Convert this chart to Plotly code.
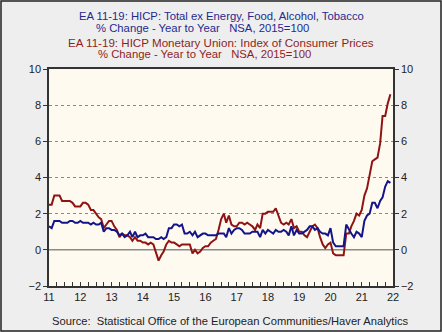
import pandas as pd
import plotly.graph_objects as go

# Monthly data, Jul 2011 - Jun 2022 (% change, year to year)
start_month = "2011-07-01"
headline = [
    2.5, 2.5, 3.0, 3.0, 3.0, 2.7,
    2.7, 2.7, 2.7, 2.6, 2.4, 2.4, 2.4, 2.6, 2.6, 2.5, 2.2, 2.2,
    2.0, 1.8, 1.7, 1.2, 1.4, 1.6, 1.6, 1.3, 1.1, 0.7, 0.9, 0.8,
    0.8, 0.7, 0.5, 0.7, 0.5, 0.5, 0.4, 0.4, 0.3, 0.4, 0.3, -0.2,
    -0.6, -0.3, -0.1, 0.3, 0.5, 0.4, 0.4, 0.3, 0.2, 0.3, 0.3, 0.3,
    0.3, -0.2, 0.0, -0.2, -0.1, 0.1, 0.2, 0.2, 0.4, 0.5, 0.6, 1.1,
    1.7, 2.0, 1.5, 1.9, 1.4, 1.3, 1.3, 1.5, 1.5, 1.4, 1.5, 1.4,
    1.3, 1.1, 1.4, 1.2, 2.0, 2.0, 2.1, 2.1, 2.1, 2.3, 1.9, 1.5,
    1.4, 1.5, 1.4, 1.7, 1.2, 1.3, 1.0, 1.0, 0.8, 0.7, 1.0, 1.3,
    1.4, 1.2, 0.7, 0.3, 0.1, 0.3, 0.4, -0.2, -0.3, -0.3, -0.3, -0.3,
    0.9, 0.9, 1.3, 1.6, 2.0, 1.9, 2.2, 3.0, 3.4, 4.1, 4.9, 5.0,
    5.1, 5.9, 7.4, 7.4, 8.1, 8.6,
]
core = [
    1.3, 1.2, 1.6, 1.6, 1.6, 1.5,
    1.5, 1.5, 1.6, 1.6, 1.5, 1.5, 1.6, 1.5, 1.5, 1.5, 1.4, 1.5,
    1.4, 1.4, 1.5, 1.0, 1.2, 1.2, 1.1, 1.1, 1.0, 0.8, 0.9, 0.7,
    0.8, 1.0, 0.7, 1.0, 0.7, 0.8, 0.8, 0.9, 0.7, 0.7, 0.7, 0.6,
    0.6, 0.7, 0.6, 0.7, 1.2, 1.2, 1.4, 1.4, 1.3, 1.4, 0.9, 0.9,
    1.0, 0.8, 1.0, 0.7, 0.8, 0.9, 0.9, 0.8, 0.8, 0.8, 0.8, 0.9,
    0.9, 0.9, 0.7, 1.2, 0.9, 1.1, 1.2, 1.2, 1.1, 0.9, 0.9, 0.9,
    1.0, 1.0, 1.0, 0.7, 1.1, 0.9, 1.1, 1.0, 0.9, 1.1, 1.0, 1.0,
    1.1, 1.0, 0.8, 1.3, 0.8, 1.1, 0.9, 0.9, 1.0, 1.1, 1.3, 1.3,
    1.1, 1.2, 1.0, 0.9, 0.9, 0.8, 1.2, 0.4, 0.2, 0.2, 0.2, 0.2,
    1.4, 1.1, 0.9, 0.7, 1.0, 0.9, 0.7, 1.6, 1.9, 2.0, 2.6, 2.6,
    2.3, 2.7, 2.9, 3.5, 3.8, 3.7,
]
year_labels = ["11", "12", "13", "14", "15", "16", "17", "18", "19", "20", "21", "22"]
y_ticks = [-2, 0, 2, 4, 6, 8, 10]

dates = pd.date_range(start_month, periods=len(headline), freq="MS")
label_pos = [f"20{y}-07-01" for y in year_labels]

BLUE = "#14148a"
RED = "#8e1414"
BLUE_TXT = "#1e2a8e"
RED_TXT = "#8e1e1e"
FONT = "Liberation Sans, Arial, sans-serif"

fig = go.Figure()
fig.add_trace(go.Scatter(x=dates, y=headline, mode="lines",
                         line=dict(color=RED, width=2), yaxis="y"))
fig.add_trace(go.Scatter(x=dates, y=core, mode="lines",
                         line=dict(color=BLUE, width=2), yaxis="y2"))

axis_common = dict(range=[-2, 10], tickvals=y_ticks, ticks="outside", ticklen=4,
                   tickcolor="#333", tickfont=dict(size=11, color="#222", family=FONT),
                   zeroline=False, fixedrange=True)

fig.update_layout(
    width=442, height=332,
    margin=dict(l=49, r=49, t=69, b=46),
    paper_bgcolor="#eeeeee",
    plot_bgcolor="#fffaf0",
    showlegend=False,
    font=dict(family=FONT, color="#222"),
    xaxis=dict(
        type="date",
        range=["2011-07-01", "2022-07-01"],
        tickvals=label_pos, ticktext=year_labels,
        ticks="inside", ticklen=4, tickcolor="#333",
        tickfont=dict(size=11, color="#222", family=FONT),
        minor=dict(dtick="M3", tick0="2011-01-01", ticks="inside", ticklen=4,
                   tickcolor="#333", showgrid=False),
        showgrid=False, showline=True, linecolor="#333", linewidth=1.5,
        mirror=True, zeroline=False,
    ),
    yaxis=dict(
        **axis_common, side="left",
        showgrid=True, gridcolor="#8a8a8a", griddash="dot", gridwidth=1,
        showline=True, linecolor="#333", linewidth=1.5, mirror=True,
    ),
    yaxis2=dict(
        **axis_common, side="right", overlaying="y",
        showgrid=False, showline=True, linecolor="#333", linewidth=1.5,
    ),
)

# solid zero line
fig.add_shape(type="line", xref="paper", x0=0, x1=1, yref="y", y0=0, y1=0,
              line=dict(color="#8a8a8a", width=1.5), layer="below")

# outer border
fig.add_shape(type="rect", xref="paper", yref="paper",
              x0=(1 - 49) / 344, x1=(441 - 49) / 344,
              y0=(286 - 331) / 217, y1=(286 - 1) / 217,
              line=dict(color="#222", width=1.5), fillcolor="rgba(0,0,0,0)")

def ypx(p):
    return (286 - p) / 217

def xpx(p):
    return (p - 49) / 344

sp = "\u00a0"
titles = [
    ("EA 11-19: HICP: Total ex Energy, Food, Alcohol, Tobacco", BLUE_TXT, 11.3, 221, 16, "center"),
    ("% Change - Year to Year" + sp * 3 + "NSA, 2015=100", BLUE_TXT, 11.3, 94, 28.5, "left"),
    ("EA 11-19: HICP Monetary Union: Index of Consumer Prices", RED_TXT, 11.6, 221, 42, "center"),
    ("% Change - Year to Year" + sp * 3 + "NSA, 2015=100", RED_TXT, 11.3, 96, 54.5, "left"),
]
for txt, col, size, xp, yp, anchor in titles:
    fig.add_annotation(text=txt, xref="paper", yref="paper", x=xpx(xp), y=ypx(yp),
                       xanchor=anchor, yanchor="middle", showarrow=False,
                       font=dict(size=size, color=col, family=FONT))

fig.add_annotation(text="Source:" + sp * 2 + "Statistical Office of the European Communities/Haver Analytics",
                   xref="paper", yref="paper", x=xpx(50), y=ypx(321),
                   xanchor="left", yanchor="middle", showarrow=False,
                   font=dict(size=11.2, color="#222", family=FONT))

fig.write_html("out.html")
